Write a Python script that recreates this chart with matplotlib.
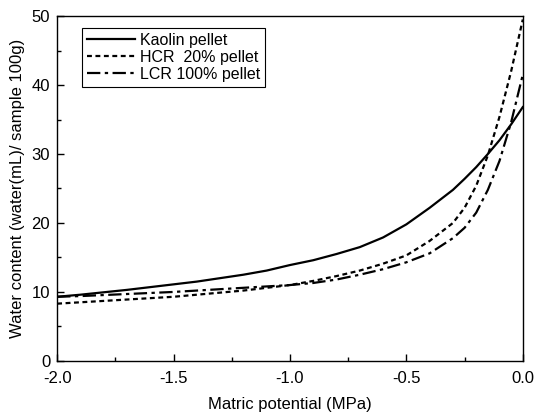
import matplotlib
matplotlib.use("Agg")
import matplotlib.pyplot as plt
from matplotlib.ticker import MultipleLocator

plt.rcParams["font.family"] = ["Liberation Sans", "DejaVu Sans"]

# 基质势 (MPa)
potential = [-2.0, -1.9, -1.8, -1.7, -1.6, -1.5, -1.4, -1.3, -1.2, -1.1,
             -1.0, -0.9, -0.8, -0.7, -0.6, -0.5, -0.4, -0.3, -0.25, -0.2,
             -0.15, -0.1, -0.05, 0.0]

# 含水量 (mL / 100g)
kaolin = [9.3, 9.6, 9.95, 10.3, 10.7, 11.1, 11.5, 12.0, 12.5, 13.1,
          13.9, 14.6, 15.5, 16.5, 17.9, 19.8, 22.2, 24.8, 26.4, 28.1,
          30.0, 32.0, 34.3, 36.8]
hcr20 = [8.3, 8.5, 8.7, 8.9, 9.1, 9.3, 9.6, 9.9, 10.2, 10.6,
         11.0, 11.6, 12.3, 13.1, 14.1, 15.3, 17.4, 20.0, 22.2, 25.4,
         29.8, 35.4, 42.0, 49.5]
lcr100 = [9.3, 9.4, 9.55, 9.7, 9.85, 10.0, 10.2, 10.4, 10.6, 10.8,
          11.0, 11.3, 11.8, 12.5, 13.3, 14.3, 15.6, 17.8, 19.3, 21.5,
          24.8, 29.0, 34.6, 41.5]

fig = plt.figure(figsize=(5.34, 4.12), dpi=100)
ax = fig.add_axes([0.107, 0.124, 0.872, 0.837])

ax.plot(potential, kaolin, color="black", lw=1.6, ls="-", label="Kaolin pellet",
        solid_joinstyle="round")
ax.plot(potential, hcr20, color="black", lw=1.6, ls=(0, (2.2, 1.6)), label="HCR  20% pellet")
ax.plot(potential, lcr100, color="black", lw=1.6, ls=(0, (6, 2, 1.5, 2)), label="LCR 100% pellet")

ax.set_xlim(-2.0, 0.0)
ax.set_ylim(0, 50)
ax.xaxis.set_major_locator(MultipleLocator(0.5))
ax.xaxis.set_minor_locator(MultipleLocator(0.25))
ax.yaxis.set_major_locator(MultipleLocator(10))
ax.yaxis.set_minor_locator(MultipleLocator(5))
ax.tick_params(which="both", direction="in", top=False, right=False, labelsize=12, width=1)
ax.tick_params(which="major", length=5)
ax.tick_params(which="minor", length=3)
ax.tick_params(axis="x", pad=7)
ax.tick_params(axis="y", pad=5)
ax.set_xticklabels([f"{v:.1f}" for v in ax.get_xticks()])
for s in ax.spines.values():
    s.set_linewidth(1)

ax.set_xlabel("Matric potential (MPa)", fontsize=12, labelpad=8)
ax.set_ylabel("Water content (water(mL)/ sample 100g)", fontsize=12, labelpad=5)

leg = ax.legend(loc="upper left", bbox_to_anchor=(0.054, 0.965), fontsize=11.5,
                handlelength=3.0, handletextpad=0.3, borderpad=0.3,
                labelspacing=0.12, fancybox=False, framealpha=1, borderaxespad=0)
leg.get_frame().set_edgecolor("black")
leg.get_frame().set_linewidth(0.8)

plt.savefig("out.png", dpi=100)
